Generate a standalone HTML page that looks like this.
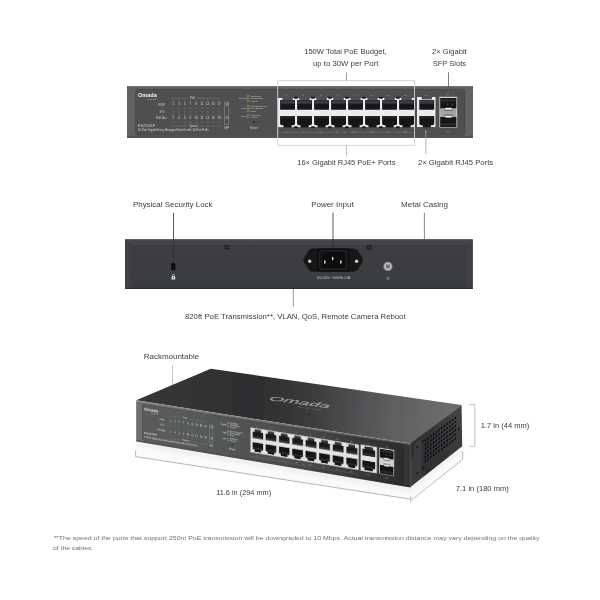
<!DOCTYPE html>
<html><head><meta charset="utf-8"><title>ES220GP</title>
<style>html,body{margin:0;padding:0;background:#fff;}body{position:relative;width:600px;height:600px;overflow:hidden;}svg{display:block;}text{font-family:'Liberation Sans', sans-serif;}#front3d text{font-weight:bold;}</style>
</head><body>
<svg width="600" height="600" viewBox="0 0 600 600">
<defs>
<linearGradient id="gTop" gradientUnits="userSpaceOnUse" x1="170" y1="400" x2="450" y2="420"><stop offset="0" stop-color="#363638"/><stop offset="0.3" stop-color="#2d2d2f"/><stop offset="0.5" stop-color="#3b3b3d"/><stop offset="0.65" stop-color="#4e4e50"/><stop offset="0.8" stop-color="#5f5f61"/><stop offset="1" stop-color="#6d6d6f"/></linearGradient>
<linearGradient id="gSide" gradientUnits="userSpaceOnUse" x1="410" y1="460" x2="462" y2="425"><stop offset="0" stop-color="#3c3d3f"/><stop offset="0.1" stop-color="#2d2e30"/><stop offset="0.5" stop-color="#333436"/><stop offset="1" stop-color="#414244"/></linearGradient>
<linearGradient id="gRear" x1="0" y1="0" x2="0" y2="1"><stop offset="0" stop-color="#3d3f42"/><stop offset="1" stop-color="#393b3e"/></linearGradient>
<radialGradient id="gShadow" cx="0.5" cy="0.5" r="0.5"><stop offset="0" stop-color="#000" stop-opacity="0.07"/><stop offset="1" stop-color="#000" stop-opacity="0"/></radialGradient>
<linearGradient id="gFrontShade" gradientUnits="userSpaceOnUse" x1="0" y1="0" x2="346" y2="0"><stop offset="0" stop-color="#000" stop-opacity="0"/><stop offset="0.25" stop-color="#000" stop-opacity="0.03"/><stop offset="0.6" stop-color="#000" stop-opacity="0.17"/><stop offset="0.85" stop-color="#000" stop-opacity="0.4"/><stop offset="1" stop-color="#000" stop-opacity="0.54"/></linearGradient>
<filter id="soft2" x="-5%" y="-20%" width="110%" height="140%"><feGaussianBlur stdDeviation="1.6"/></filter>
<filter id="soft" x="-5%" y="-5%" width="110%" height="110%"><feGaussianBlur stdDeviation="0.35"/></filter>
</defs>
<rect width="600" height="600" fill="#ffffff"/>
<g id="frontview" filter="url(#soft)">
<g transform="translate(127,86)">
<rect x="0" y="0" width="346.0" height="51.7" fill="#626364"/>
<rect x="0" y="0" width="346.0" height="1" fill="#6c6e6f"/>
<rect x="0" y="50.5" width="346.0" height="1.2" fill="#3a3c3e"/>
<rect x="8.5" y="3.3" width="329.5" height="46" rx="2.2" fill="#4f5051"/>
<rect x="8.5" y="3.3" width="329.5" height="46" rx="2.2" fill="none" stroke="#404243" stroke-width="0.5"/>
<text x="10.9" y="11.1" font-size="5.2" font-weight="bold" fill="#f2f2f2" textLength="18.9" lengthAdjust="spacingAndGlyphs">Omada</text>
<text x="20.0" y="13.7" font-size="2.2" fill="#b8babb" textLength="9.8" lengthAdjust="spacingAndGlyphs">by tp-link</text>
<text x="37.6" y="19.7" font-size="2.6" fill="#cdd0d1" text-anchor="end">PWR</text>
<text x="37.6" y="26.5" font-size="2.6" fill="#cdd0d1" text-anchor="end">SYS</text>
<text x="39.6" y="33.4" font-size="2.6" fill="#cdd0d1" text-anchor="end">PoE Max</text>
<text x="10.8" y="40.6" font-size="3.3" fill="#cdd0d1" textLength="17.5" lengthAdjust="spacingAndGlyphs">ES220GP</text>
<text x="10.8" y="45.4" font-size="2.9" fill="#cdd0d1" textLength="71.5" lengthAdjust="spacingAndGlyphs">20-Port Gigabit Easy Managed Switch with 16-Port PoE+</text>
<rect x="34.4" y="21.6" width="1.6" height="0.8" fill="#6f7375"/>
<rect x="34.4" y="28.6" width="1.6" height="0.8" fill="#6f7375"/>
<text x="65.5" y="13.0" font-size="2.7" fill="#cdd0d1" text-anchor="middle">PoE</text>
<path d="M44,12.2 H61.5 M69.5,12.2 H93" stroke="#8a8d8f" stroke-width="0.35" fill="none"/>
<text x="66.5" y="41.0" font-size="2.7" fill="#cdd0d1" text-anchor="middle">Speed</text>
<path d="M44,40.1 H61 M72,40.1 H95" stroke="#8a8d8f" stroke-width="0.35" fill="none"/>
<text x="46.3" y="19.4" font-size="3.0" fill="#d2d4d5" text-anchor="middle">1</text>
<text x="46.3" y="33.4" font-size="3.0" fill="#d2d4d5" text-anchor="middle">2</text>
<rect x="45.4" y="14.6" width="1.8" height="0.7" fill="#72767a"/>
<rect x="45.4" y="21.8" width="1.8" height="0.7" fill="#72767a"/>
<rect x="45.4" y="25.6" width="1.8" height="0.7" fill="#72767a"/>
<rect x="45.4" y="28.8" width="1.8" height="0.7" fill="#72767a"/>
<rect x="45.4" y="35.9" width="1.8" height="0.7" fill="#72767a"/>
<text x="52.01" y="19.4" font-size="3.0" fill="#d2d4d5" text-anchor="middle">3</text>
<text x="52.01" y="33.4" font-size="3.0" fill="#d2d4d5" text-anchor="middle">4</text>
<rect x="51.11" y="14.6" width="1.8" height="0.7" fill="#72767a"/>
<rect x="51.11" y="21.8" width="1.8" height="0.7" fill="#72767a"/>
<rect x="51.11" y="25.6" width="1.8" height="0.7" fill="#72767a"/>
<rect x="51.11" y="28.8" width="1.8" height="0.7" fill="#72767a"/>
<rect x="51.11" y="35.9" width="1.8" height="0.7" fill="#72767a"/>
<text x="57.72" y="19.4" font-size="3.0" fill="#d2d4d5" text-anchor="middle">5</text>
<text x="57.72" y="33.4" font-size="3.0" fill="#d2d4d5" text-anchor="middle">6</text>
<rect x="56.82" y="14.6" width="1.8" height="0.7" fill="#72767a"/>
<rect x="56.82" y="21.8" width="1.8" height="0.7" fill="#72767a"/>
<rect x="56.82" y="25.6" width="1.8" height="0.7" fill="#72767a"/>
<rect x="56.82" y="28.8" width="1.8" height="0.7" fill="#72767a"/>
<rect x="56.82" y="35.9" width="1.8" height="0.7" fill="#72767a"/>
<text x="63.42999999999999" y="19.4" font-size="3.0" fill="#d2d4d5" text-anchor="middle">7</text>
<text x="63.42999999999999" y="33.4" font-size="3.0" fill="#d2d4d5" text-anchor="middle">8</text>
<rect x="62.529999999999994" y="14.6" width="1.8" height="0.7" fill="#72767a"/>
<rect x="62.529999999999994" y="21.8" width="1.8" height="0.7" fill="#72767a"/>
<rect x="62.529999999999994" y="25.6" width="1.8" height="0.7" fill="#72767a"/>
<rect x="62.529999999999994" y="28.8" width="1.8" height="0.7" fill="#72767a"/>
<rect x="62.529999999999994" y="35.9" width="1.8" height="0.7" fill="#72767a"/>
<text x="69.14" y="19.4" font-size="3.0" fill="#d2d4d5" text-anchor="middle">9</text>
<text x="69.14" y="33.4" font-size="3.0" fill="#d2d4d5" text-anchor="middle">10</text>
<rect x="68.24" y="14.6" width="1.8" height="0.7" fill="#72767a"/>
<rect x="68.24" y="21.8" width="1.8" height="0.7" fill="#72767a"/>
<rect x="68.24" y="25.6" width="1.8" height="0.7" fill="#72767a"/>
<rect x="68.24" y="28.8" width="1.8" height="0.7" fill="#72767a"/>
<rect x="68.24" y="35.9" width="1.8" height="0.7" fill="#72767a"/>
<text x="74.85" y="19.4" font-size="3.0" fill="#d2d4d5" text-anchor="middle">11</text>
<text x="74.85" y="33.4" font-size="3.0" fill="#d2d4d5" text-anchor="middle">12</text>
<rect x="73.94999999999999" y="14.6" width="1.8" height="0.7" fill="#72767a"/>
<rect x="73.94999999999999" y="21.8" width="1.8" height="0.7" fill="#72767a"/>
<rect x="73.94999999999999" y="25.6" width="1.8" height="0.7" fill="#72767a"/>
<rect x="73.94999999999999" y="28.8" width="1.8" height="0.7" fill="#72767a"/>
<rect x="73.94999999999999" y="35.9" width="1.8" height="0.7" fill="#72767a"/>
<text x="80.56" y="19.4" font-size="3.0" fill="#d2d4d5" text-anchor="middle">13</text>
<text x="80.56" y="33.4" font-size="3.0" fill="#d2d4d5" text-anchor="middle">14</text>
<rect x="79.66" y="14.6" width="1.8" height="0.7" fill="#72767a"/>
<rect x="79.66" y="21.8" width="1.8" height="0.7" fill="#72767a"/>
<rect x="79.66" y="25.6" width="1.8" height="0.7" fill="#72767a"/>
<rect x="79.66" y="28.8" width="1.8" height="0.7" fill="#72767a"/>
<rect x="79.66" y="35.9" width="1.8" height="0.7" fill="#72767a"/>
<text x="86.27" y="19.4" font-size="3.0" fill="#d2d4d5" text-anchor="middle">15</text>
<text x="86.27" y="33.4" font-size="3.0" fill="#d2d4d5" text-anchor="middle">16</text>
<rect x="85.36999999999999" y="14.6" width="1.8" height="0.7" fill="#72767a"/>
<rect x="85.36999999999999" y="21.8" width="1.8" height="0.7" fill="#72767a"/>
<rect x="85.36999999999999" y="25.6" width="1.8" height="0.7" fill="#72767a"/>
<rect x="85.36999999999999" y="28.8" width="1.8" height="0.7" fill="#72767a"/>
<rect x="85.36999999999999" y="35.9" width="1.8" height="0.7" fill="#72767a"/>
<text x="91.97999999999999" y="19.4" font-size="3.0" fill="#d2d4d5" text-anchor="middle">17</text>
<text x="91.97999999999999" y="33.4" font-size="3.0" fill="#d2d4d5" text-anchor="middle">18</text>
<rect x="91.07999999999998" y="14.6" width="1.8" height="0.7" fill="#72767a"/>
<rect x="91.07999999999998" y="21.8" width="1.8" height="0.7" fill="#72767a"/>
<rect x="91.07999999999998" y="25.6" width="1.8" height="0.7" fill="#72767a"/>
<rect x="91.07999999999998" y="28.8" width="1.8" height="0.7" fill="#72767a"/>
<rect x="91.07999999999998" y="35.9" width="1.8" height="0.7" fill="#72767a"/>
<rect x="97.7" y="16" width="4.2" height="22.6" fill="none" stroke="#a9acae" stroke-width="0.4"/>
<text x="99.8" y="19.6" font-size="2.9" fill="#d2d4d5" text-anchor="middle">19</text>
<text x="99.8" y="33.4" font-size="2.9" fill="#d2d4d5" text-anchor="middle">20</text>
<text x="99.8" y="42.6" font-size="2.7" fill="#cdd0d1" text-anchor="middle">SFP</text>
<path d="M120.3,9.0 V16.0" stroke="#b5b8ba" stroke-width="0.4"/>
<text x="119.1" y="13.4" font-size="2.5" fill="#cdd0d1" text-anchor="end">Speed</text>
<rect x="121.3" y="9.5" width="1.3" height="0.9" fill="#d9c64a"/>
<text x="123.7" y="10.6" font-size="2.2" fill="#d2d4d5">1000Mbps</text>
<rect x="121.3" y="11.950000000000001" width="1.3" height="0.9" fill="#7fbf5a"/>
<text x="123.7" y="13.05" font-size="2.2" fill="#d2d4d5">10/100Mbps</text>
<rect x="121.3" y="14.4" width="1.3" height="0.9" fill="#7fbf5a"/>
<text x="123.7" y="15.5" font-size="2.2" fill="#d2d4d5">Activity</text>
<path d="M120.3,19.0 V26.0" stroke="#b5b8ba" stroke-width="0.4"/>
<text x="119.1" y="23.4" font-size="2.5" fill="#cdd0d1" text-anchor="end">PoE</text>
<rect x="121.3" y="19.5" width="1.3" height="0.9" fill="#d9c64a"/>
<text x="123.7" y="20.6" font-size="2.2" fill="#d2d4d5">Detecting Power</text>
<rect x="121.3" y="21.95" width="1.3" height="0.9" fill="#d9c64a"/>
<text x="123.7" y="23.05" font-size="2.2" fill="#d2d4d5">Over Budget</text>
<rect x="121.3" y="24.4" width="1.3" height="0.9" fill="#d9c64a"/>
<text x="123.7" y="25.5" font-size="2.2" fill="#d2d4d5">Fault</text>
<path d="M120.3,28.0 V32.6" stroke="#b5b8ba" stroke-width="0.4"/>
<text x="119.1" y="31.2" font-size="2.5" fill="#cdd0d1" text-anchor="end">SFP</text>
<rect x="121.3" y="28.5" width="1.3" height="0.9" fill="#7fbf5a"/>
<text x="123.7" y="29.6" font-size="2.2" fill="#d2d4d5">1000Mbps</text>
<rect x="121.3" y="30.950000000000003" width="1.3" height="0.9" fill="#7fbf5a"/>
<text x="123.7" y="32.050000000000004" font-size="2.2" fill="#d2d4d5">Activity</text>
<circle cx="127" cy="36.2" r="0.9" fill="#151617"/>
<text x="127" y="42.6" font-size="2.9" fill="#cdd0d1" text-anchor="middle">Reset</text>
<rect x="150.8" y="12.0" width="137.0" height="29.1" fill="#ececec"/>
<rect x="155.40000000000003" y="11.8" width="10.3" height="2.6" fill="#4d4f52"/>
<rect x="153.10000000000002" y="14.0" width="14.9" height="9.7" rx="0.5" fill="#19191b"/>
<rect x="153.60000000000002" y="14.3" width="13.9" height="3.4" fill="#3a3b3e"/>
<path d="M153.10000000000002,30.0 H168.00000000000003 V37.6 Q168.00000000000003,39.3 166.20000000000002,39.3 H164.60000000000002 V41.4 H156.50000000000003 V39.3 H154.90000000000003 Q153.10000000000002,39.3 153.10000000000002,37.6 Z" fill="#141416"/>
<rect x="153.70000000000002" y="30.2" width="13.700000000000001" height="1.6" fill="#2a2b2e"/>
<rect x="172.40000000000003" y="11.8" width="10.3" height="2.6" fill="#4d4f52"/>
<rect x="170.10000000000002" y="14.0" width="14.9" height="9.7" rx="0.5" fill="#19191b"/>
<rect x="170.60000000000002" y="14.3" width="13.9" height="3.4" fill="#3a3b3e"/>
<path d="M170.10000000000002,30.0 H185.00000000000003 V37.6 Q185.00000000000003,39.3 183.20000000000002,39.3 H181.60000000000002 V41.4 H173.50000000000003 V39.3 H171.90000000000003 Q170.10000000000002,39.3 170.10000000000002,37.6 Z" fill="#141416"/>
<rect x="170.70000000000002" y="30.2" width="13.700000000000001" height="1.6" fill="#2a2b2e"/>
<rect x="189.40000000000003" y="11.8" width="10.3" height="2.6" fill="#4d4f52"/>
<rect x="187.10000000000002" y="14.0" width="14.9" height="9.7" rx="0.5" fill="#19191b"/>
<rect x="187.60000000000002" y="14.3" width="13.9" height="3.4" fill="#3a3b3e"/>
<path d="M187.10000000000002,30.0 H202.00000000000003 V37.6 Q202.00000000000003,39.3 200.20000000000002,39.3 H198.60000000000002 V41.4 H190.50000000000003 V39.3 H188.90000000000003 Q187.10000000000002,39.3 187.10000000000002,37.6 Z" fill="#141416"/>
<rect x="187.70000000000002" y="30.2" width="13.700000000000001" height="1.6" fill="#2a2b2e"/>
<rect x="206.40000000000003" y="11.8" width="10.3" height="2.6" fill="#4d4f52"/>
<rect x="204.10000000000002" y="14.0" width="14.9" height="9.7" rx="0.5" fill="#19191b"/>
<rect x="204.60000000000002" y="14.3" width="13.9" height="3.4" fill="#3a3b3e"/>
<path d="M204.10000000000002,30.0 H219.00000000000003 V37.6 Q219.00000000000003,39.3 217.20000000000002,39.3 H215.60000000000002 V41.4 H207.50000000000003 V39.3 H205.90000000000003 Q204.10000000000002,39.3 204.10000000000002,37.6 Z" fill="#141416"/>
<rect x="204.70000000000002" y="30.2" width="13.700000000000001" height="1.6" fill="#2a2b2e"/>
<rect x="223.40000000000003" y="11.8" width="10.3" height="2.6" fill="#4d4f52"/>
<rect x="221.10000000000002" y="14.0" width="14.9" height="9.7" rx="0.5" fill="#19191b"/>
<rect x="221.60000000000002" y="14.3" width="13.9" height="3.4" fill="#3a3b3e"/>
<path d="M221.10000000000002,30.0 H236.00000000000003 V37.6 Q236.00000000000003,39.3 234.20000000000002,39.3 H232.60000000000002 V41.4 H224.50000000000003 V39.3 H222.90000000000003 Q221.10000000000002,39.3 221.10000000000002,37.6 Z" fill="#141416"/>
<rect x="221.70000000000002" y="30.2" width="13.700000000000001" height="1.6" fill="#2a2b2e"/>
<rect x="240.40000000000003" y="11.8" width="10.3" height="2.6" fill="#4d4f52"/>
<rect x="238.10000000000002" y="14.0" width="14.9" height="9.7" rx="0.5" fill="#19191b"/>
<rect x="238.60000000000002" y="14.3" width="13.9" height="3.4" fill="#3a3b3e"/>
<path d="M238.10000000000002,30.0 H253.00000000000003 V37.6 Q253.00000000000003,39.3 251.20000000000002,39.3 H249.60000000000002 V41.4 H241.50000000000003 V39.3 H239.90000000000003 Q238.10000000000002,39.3 238.10000000000002,37.6 Z" fill="#141416"/>
<rect x="238.70000000000002" y="30.2" width="13.700000000000001" height="1.6" fill="#2a2b2e"/>
<rect x="257.40000000000003" y="11.8" width="10.3" height="2.6" fill="#4d4f52"/>
<rect x="255.10000000000002" y="14.0" width="14.9" height="9.7" rx="0.5" fill="#19191b"/>
<rect x="255.60000000000002" y="14.3" width="13.9" height="3.4" fill="#3a3b3e"/>
<path d="M255.10000000000002,30.0 H270.0 V37.6 Q270.0,39.3 268.2,39.3 H266.6 V41.4 H258.5 V39.3 H256.90000000000003 Q255.10000000000002,39.3 255.10000000000002,37.6 Z" fill="#141416"/>
<rect x="255.70000000000002" y="30.2" width="13.700000000000001" height="1.6" fill="#2a2b2e"/>
<rect x="274.40000000000003" y="11.8" width="10.3" height="2.6" fill="#4d4f52"/>
<rect x="272.1" y="14.0" width="14.9" height="9.7" rx="0.5" fill="#19191b"/>
<rect x="272.6" y="14.3" width="13.9" height="3.4" fill="#3a3b3e"/>
<path d="M272.1,30.0 H287.0 V37.6 Q287.0,39.3 285.2,39.3 H283.6 V41.4 H275.5 V39.3 H273.90000000000003 Q272.1,39.3 272.1,37.6 Z" fill="#141416"/>
<rect x="272.70000000000005" y="30.2" width="13.700000000000001" height="1.6" fill="#2a2b2e"/>
<rect x="166.9" y="10.7" width="4.0" height="2.0" rx="0.9" fill="#1d1d1f"/>
<rect x="166.9" y="40.300000000000004" width="4.0" height="2.0" rx="0.9" fill="#1d1d1f"/>
<rect x="183.9" y="10.7" width="4.0" height="2.0" rx="0.9" fill="#1d1d1f"/>
<rect x="183.9" y="40.300000000000004" width="4.0" height="2.0" rx="0.9" fill="#1d1d1f"/>
<rect x="200.9" y="10.7" width="4.0" height="2.0" rx="0.9" fill="#1d1d1f"/>
<rect x="200.9" y="40.300000000000004" width="4.0" height="2.0" rx="0.9" fill="#1d1d1f"/>
<rect x="217.9" y="10.7" width="4.0" height="2.0" rx="0.9" fill="#1d1d1f"/>
<rect x="217.9" y="40.300000000000004" width="4.0" height="2.0" rx="0.9" fill="#1d1d1f"/>
<rect x="234.9" y="10.7" width="4.0" height="2.0" rx="0.9" fill="#1d1d1f"/>
<rect x="234.9" y="40.300000000000004" width="4.0" height="2.0" rx="0.9" fill="#1d1d1f"/>
<rect x="251.9" y="10.7" width="4.0" height="2.0" rx="0.9" fill="#1d1d1f"/>
<rect x="251.9" y="40.300000000000004" width="4.0" height="2.0" rx="0.9" fill="#1d1d1f"/>
<rect x="268.90000000000003" y="10.7" width="4.0" height="2.0" rx="0.9" fill="#1d1d1f"/>
<rect x="268.90000000000003" y="40.300000000000004" width="4.0" height="2.0" rx="0.9" fill="#1d1d1f"/>
<rect x="290.0" y="11.0" width="18.5" height="30.0" fill="#ececec"/>
<rect x="294.6" y="10.8" width="10.3" height="2.6" fill="#4d4f52"/>
<rect x="292.3" y="14.0" width="14.9" height="9.7" rx="0.5" fill="#19191b"/>
<rect x="292.8" y="14.3" width="13.9" height="3.4" fill="#3a3b3e"/>
<path d="M292.3,30.0 H307.2 V37.6 Q307.2,39.3 305.4,39.3 H303.8 V41.3 H295.7 V39.3 H294.1 Q292.3,39.3 292.3,37.6 Z" fill="#141416"/>
<rect x="292.90000000000003" y="30.2" width="13.700000000000001" height="1.6" fill="#2a2b2e"/>
<text x="159.3" y="9.8" font-size="2.4" fill="#9fa2a4" text-anchor="middle">1</text>
<text x="159.3" y="45.6" font-size="2.4" fill="#9fa2a4" text-anchor="middle">2</text>
<text x="176.3" y="9.8" font-size="2.4" fill="#9fa2a4" text-anchor="middle">3</text>
<text x="176.3" y="45.6" font-size="2.4" fill="#9fa2a4" text-anchor="middle">4</text>
<text x="193.3" y="9.8" font-size="2.4" fill="#9fa2a4" text-anchor="middle">5</text>
<text x="193.3" y="45.6" font-size="2.4" fill="#9fa2a4" text-anchor="middle">6</text>
<text x="210.3" y="9.8" font-size="2.4" fill="#9fa2a4" text-anchor="middle">7</text>
<text x="210.3" y="45.6" font-size="2.4" fill="#9fa2a4" text-anchor="middle">8</text>
<text x="227.3" y="9.8" font-size="2.4" fill="#9fa2a4" text-anchor="middle">9</text>
<text x="227.3" y="45.6" font-size="2.4" fill="#9fa2a4" text-anchor="middle">10</text>
<text x="244.3" y="9.8" font-size="2.4" fill="#9fa2a4" text-anchor="middle">11</text>
<text x="244.3" y="45.6" font-size="2.4" fill="#9fa2a4" text-anchor="middle">12</text>
<text x="261.3" y="9.8" font-size="2.4" fill="#9fa2a4" text-anchor="middle">13</text>
<text x="261.3" y="45.6" font-size="2.4" fill="#9fa2a4" text-anchor="middle">14</text>
<text x="278.3" y="9.8" font-size="2.4" fill="#9fa2a4" text-anchor="middle">15</text>
<text x="278.3" y="45.6" font-size="2.4" fill="#9fa2a4" text-anchor="middle">16</text>
<path d="M150.8,46.6 H212.8 M222.8,46.6 H286.8" stroke="#8a8d8f" stroke-width="0.35" fill="none"/>
<text x="217.8" y="47.3" font-size="2.0" fill="#9fa2a4" text-anchor="middle">PoE+</text>
<text x="299.0" y="9.8" font-size="2.4" fill="#9fa2a4" text-anchor="middle">17</text>
<text x="299.0" y="45.6" font-size="2.4" fill="#9fa2a4" text-anchor="middle">18</text>
<rect x="312.4" y="10.8" width="17.8" height="30.7" fill="#d4d5d5"/>
<rect x="313.2" y="12.0" width="16.2" height="10.6" fill="#121214"/>
<rect x="313.2" y="31.0" width="16.2" height="10.0" fill="#121214"/>
<rect x="313.2" y="22.6" width="16.2" height="8.4" fill="#a3a4a5"/>
<rect x="318.4" y="21.8" width="6.2" height="2.0" fill="#f4f4f4"/>
<rect x="318.4" y="29.6" width="6.2" height="2.0" fill="#f4f4f4"/>
<rect x="317.4" y="23.8" width="8.2" height="1.0" fill="#5a5b5d"/>
<rect x="317.4" y="28.6" width="8.2" height="1.0" fill="#5a5b5d"/>
<rect x="314.0" y="13.0" width="14.6" height="2.6" fill="#2b2c2f"/>
<rect x="314.0" y="37.2" width="14.6" height="2.6" fill="#2b2c2f"/>
<circle cx="320.59999999999997" cy="18.2" r="0.8" fill="#55585a"/><circle cx="325.59999999999997" cy="18.2" r="0.8" fill="#55585a"/>
<text x="321.4" y="9.4" font-size="2.4" fill="#9fa2a4" text-anchor="middle">19</text>
<text x="321.4" y="45.8" font-size="2.4" fill="#9fa2a4" text-anchor="middle">20</text>
</g>
<rect x="277.7" y="80.7" width="136.8" height="64.6" fill="none" stroke="#cfcfcf" stroke-width="0.9"/>
<path d="M346.5,72.5 V80.7" stroke="#808080" stroke-width="0.8" fill="none"/>
<path d="M346.5,145.3 V155.5" stroke="#b0b0b0" stroke-width="0.8" fill="none"/>
<path d="M448.5,72.3 V95" stroke="#5c5c5c" stroke-width="0.8" fill="none"/>
<path d="M425.8,130 V154" stroke="#a5a5a5" stroke-width="0.8" fill="none"/>
</g>
<g id="rearview" filter="url(#soft)">
<rect x="125" y="239.5" width="347.7" height="49.5" fill="url(#gRear)"/>
<path d="M125,239.5 H472.7 L466.2,245 H131.5 Z" fill="#444548"/>
<path d="M125,239.5 L131.5,245 V289 H125 Z" fill="#404144"/>
<path d="M472.7,239.5 L466.2,245 V289 H472.7 Z" fill="#404144"/>
<rect x="125" y="239.5" width="347.7" height="0.8" fill="#55575a"/>
<rect x="125" y="287.8" width="347.7" height="1.2" fill="#2c2d2f"/>
<rect x="224.4" y="244.9" width="5.0" height="4.6" rx="0.7" fill="#222325"/><rect x="226.0" y="246.4" width="1.8" height="1.5" fill="#3c3d40"/>
<rect x="366.8" y="244.9" width="5.0" height="4.6" rx="0.7" fill="#222325"/><rect x="368.40000000000003" y="246.4" width="1.8" height="1.5" fill="#3c3d40"/>
<rect x="171.2" y="263" width="4.2" height="7.4" rx="1.6" fill="#0c0c0d"/>
<rect x="171.6" y="276.2" width="3.6" height="3.2" rx="0.5" fill="#e6e6e6"/><path d="M172.4,276.4 V275.4 A1,1 0 0 1 174.4,275.4 V276.4" fill="none" stroke="#e6e6e6" stroke-width="0.6"/><rect x="172.9" y="277.2" width="1" height="1.2" fill="#3b3d40"/>
<path d="M313,248.5 H353.4 Q356,248.5 357.6,250.5 L362.2,257.7 Q363.6,260.1 362.2,262.5 L357.6,269.7 Q356,271.7 353.4,271.7 H313 Q310.4,271.7 308.8,269.7 L304.2,262.5 Q302.8,260.1 304.2,257.7 L308.8,250.5 Q310.4,248.5 313,248.5 Z" fill="#131314"/>
<rect x="317.6" y="248.4" width="31.4" height="22.8" rx="1.6" fill="#0b0b0c"/>
<rect x="319.6" y="250.4" width="27.4" height="19.2" rx="1.4" fill="#161617" stroke="#37383a" stroke-width="0.6"/>
<path d="M321.8,255.4 L324.8,252.6 H341.8 L344.8,255.4 V267.4 H321.8 Z" fill="#0c0c0d"/>
<circle cx="309.7" cy="261.2" r="1.7" fill="#c9c9c9"/><circle cx="356.6" cy="261.2" r="1.7" fill="#c9c9c9"/>
<rect x="332" y="257" width="1.3" height="3.2" fill="#f0f0f0"/><rect x="324.2" y="260.4" width="1.3" height="3.2" fill="#f0f0f0"/><rect x="340.2" y="260.4" width="1.3" height="3.2" fill="#f0f0f0"/>
<text x="316.4" y="279.3" font-size="2.9" fill="#c4c6c8" textLength="34" lengthAdjust="spacingAndGlyphs">100-240V~ 50/60Hz 2.0A</text>
<circle cx="387.9" cy="266.4" r="4.6" fill="#8e9091"/><circle cx="387.9" cy="266.4" r="3.6" fill="#bcbdbe"/><circle cx="387.9" cy="266.4" r="2.0" fill="#7d7f80"/><path d="M386,264.2 L389.8,268.6 M390,264.4 L385.8,268.4" stroke="#58595b" stroke-width="0.7"/>
<circle cx="387.9" cy="278.2" r="1.3" fill="none" stroke="#b4b6b8" stroke-width="0.4"/><path d="M387.9,277.3 V278.4 M387.2,278.4 H388.6 M387.5,278.9 H388.3" stroke="#b4b6b8" stroke-width="0.3"/>
<path d="M173.5,212.9 V263.2" stroke="#2e2e2e" stroke-width="0.8"/>
<path d="M333,212.7 V248" stroke="#2e2e2e" stroke-width="0.8"/>
<path d="M424.4,212.7 V239.8" stroke="#6a6a6a" stroke-width="0.8"/>
<path d="M293.3,289 V307" stroke="#7c7c7c" stroke-width="0.8"/>
</g>
<g id="view3d" filter="url(#soft)">
<polygon points="136.1,441.3 136.1,456.7 410.7,499.2 462.6,459.5 462.2,446.3 410.2,487.3" fill="#fafafa"/>
<polygon points="136.1,441.3 136.1,446 410.4,492.3 462.4,450.6 462.2,446.3 410.2,487.3" fill="#f0f0f0" filter="url(#soft2)"/>
<polygon points="136.1,400.3 210.8,368.7 461.6,404.9 410.5,443.4" fill="url(#gTop)"/>
<polygon points="410.4,443.3 461.6,404.9 462.2,446.3 410.2,487.3" fill="url(#gSide)"/>
<g transform="matrix(51.5,-38.6,0,43.6,410.4,443.5)">
<rect x="0.07" y="0.06" width="0.15" height="0.86" fill="#3a3b3d"/>
<rect x="0.2770" y="0.1590" width="0.032" height="0.052" rx="0.012" ry="0.018" fill="#0d0e0f"/>
<rect x="0.3296" y="0.1590" width="0.032" height="0.052" rx="0.012" ry="0.018" fill="#0d0e0f"/>
<rect x="0.3822" y="0.1590" width="0.032" height="0.052" rx="0.012" ry="0.018" fill="#0d0e0f"/>
<rect x="0.4348" y="0.1590" width="0.032" height="0.052" rx="0.012" ry="0.018" fill="#0d0e0f"/>
<rect x="0.4874" y="0.1590" width="0.032" height="0.052" rx="0.012" ry="0.018" fill="#0d0e0f"/>
<rect x="0.5400" y="0.1590" width="0.032" height="0.052" rx="0.012" ry="0.018" fill="#0d0e0f"/>
<rect x="0.5926" y="0.1590" width="0.032" height="0.052" rx="0.012" ry="0.018" fill="#0d0e0f"/>
<rect x="0.6452" y="0.1590" width="0.032" height="0.052" rx="0.012" ry="0.018" fill="#0d0e0f"/>
<rect x="0.6978" y="0.1590" width="0.032" height="0.052" rx="0.012" ry="0.018" fill="#0d0e0f"/>
<rect x="0.7504" y="0.1590" width="0.032" height="0.052" rx="0.012" ry="0.018" fill="#0d0e0f"/>
<rect x="0.8030" y="0.1590" width="0.032" height="0.052" rx="0.012" ry="0.018" fill="#0d0e0f"/>
<rect x="0.8556" y="0.1590" width="0.032" height="0.052" rx="0.012" ry="0.018" fill="#0d0e0f"/>
<rect x="0.2770" y="0.2550" width="0.032" height="0.052" rx="0.012" ry="0.018" fill="#0d0e0f"/>
<rect x="0.3296" y="0.2550" width="0.032" height="0.052" rx="0.012" ry="0.018" fill="#0d0e0f"/>
<rect x="0.3822" y="0.2550" width="0.032" height="0.052" rx="0.012" ry="0.018" fill="#0d0e0f"/>
<rect x="0.4348" y="0.2550" width="0.032" height="0.052" rx="0.012" ry="0.018" fill="#0d0e0f"/>
<rect x="0.4874" y="0.2550" width="0.032" height="0.052" rx="0.012" ry="0.018" fill="#0d0e0f"/>
<rect x="0.5400" y="0.2550" width="0.032" height="0.052" rx="0.012" ry="0.018" fill="#0d0e0f"/>
<rect x="0.5926" y="0.2550" width="0.032" height="0.052" rx="0.012" ry="0.018" fill="#0d0e0f"/>
<rect x="0.6452" y="0.2550" width="0.032" height="0.052" rx="0.012" ry="0.018" fill="#0d0e0f"/>
<rect x="0.6978" y="0.2550" width="0.032" height="0.052" rx="0.012" ry="0.018" fill="#0d0e0f"/>
<rect x="0.7504" y="0.2550" width="0.032" height="0.052" rx="0.012" ry="0.018" fill="#0d0e0f"/>
<rect x="0.8030" y="0.2550" width="0.032" height="0.052" rx="0.012" ry="0.018" fill="#0d0e0f"/>
<rect x="0.8556" y="0.2550" width="0.032" height="0.052" rx="0.012" ry="0.018" fill="#0d0e0f"/>
<rect x="0.2770" y="0.3510" width="0.032" height="0.052" rx="0.012" ry="0.018" fill="#0d0e0f"/>
<rect x="0.3296" y="0.3510" width="0.032" height="0.052" rx="0.012" ry="0.018" fill="#0d0e0f"/>
<rect x="0.3822" y="0.3510" width="0.032" height="0.052" rx="0.012" ry="0.018" fill="#0d0e0f"/>
<rect x="0.4348" y="0.3510" width="0.032" height="0.052" rx="0.012" ry="0.018" fill="#0d0e0f"/>
<rect x="0.4874" y="0.3510" width="0.032" height="0.052" rx="0.012" ry="0.018" fill="#0d0e0f"/>
<rect x="0.5400" y="0.3510" width="0.032" height="0.052" rx="0.012" ry="0.018" fill="#0d0e0f"/>
<rect x="0.5926" y="0.3510" width="0.032" height="0.052" rx="0.012" ry="0.018" fill="#0d0e0f"/>
<rect x="0.6452" y="0.3510" width="0.032" height="0.052" rx="0.012" ry="0.018" fill="#0d0e0f"/>
<rect x="0.6978" y="0.3510" width="0.032" height="0.052" rx="0.012" ry="0.018" fill="#0d0e0f"/>
<rect x="0.7504" y="0.3510" width="0.032" height="0.052" rx="0.012" ry="0.018" fill="#0d0e0f"/>
<rect x="0.8030" y="0.3510" width="0.032" height="0.052" rx="0.012" ry="0.018" fill="#0d0e0f"/>
<rect x="0.8556" y="0.3510" width="0.032" height="0.052" rx="0.012" ry="0.018" fill="#0d0e0f"/>
<rect x="0.2770" y="0.4470" width="0.032" height="0.052" rx="0.012" ry="0.018" fill="#0d0e0f"/>
<rect x="0.3296" y="0.4470" width="0.032" height="0.052" rx="0.012" ry="0.018" fill="#0d0e0f"/>
<rect x="0.3822" y="0.4470" width="0.032" height="0.052" rx="0.012" ry="0.018" fill="#0d0e0f"/>
<rect x="0.4348" y="0.4470" width="0.032" height="0.052" rx="0.012" ry="0.018" fill="#0d0e0f"/>
<rect x="0.4874" y="0.4470" width="0.032" height="0.052" rx="0.012" ry="0.018" fill="#0d0e0f"/>
<rect x="0.5400" y="0.4470" width="0.032" height="0.052" rx="0.012" ry="0.018" fill="#0d0e0f"/>
<rect x="0.5926" y="0.4470" width="0.032" height="0.052" rx="0.012" ry="0.018" fill="#0d0e0f"/>
<rect x="0.6452" y="0.4470" width="0.032" height="0.052" rx="0.012" ry="0.018" fill="#0d0e0f"/>
<rect x="0.6978" y="0.4470" width="0.032" height="0.052" rx="0.012" ry="0.018" fill="#0d0e0f"/>
<rect x="0.7504" y="0.4470" width="0.032" height="0.052" rx="0.012" ry="0.018" fill="#0d0e0f"/>
<rect x="0.8030" y="0.4470" width="0.032" height="0.052" rx="0.012" ry="0.018" fill="#0d0e0f"/>
<rect x="0.8556" y="0.4470" width="0.032" height="0.052" rx="0.012" ry="0.018" fill="#0d0e0f"/>
<rect x="0.2770" y="0.5430" width="0.032" height="0.052" rx="0.012" ry="0.018" fill="#0d0e0f"/>
<rect x="0.3296" y="0.5430" width="0.032" height="0.052" rx="0.012" ry="0.018" fill="#0d0e0f"/>
<rect x="0.3822" y="0.5430" width="0.032" height="0.052" rx="0.012" ry="0.018" fill="#0d0e0f"/>
<rect x="0.4348" y="0.5430" width="0.032" height="0.052" rx="0.012" ry="0.018" fill="#0d0e0f"/>
<rect x="0.4874" y="0.5430" width="0.032" height="0.052" rx="0.012" ry="0.018" fill="#0d0e0f"/>
<rect x="0.5400" y="0.5430" width="0.032" height="0.052" rx="0.012" ry="0.018" fill="#0d0e0f"/>
<rect x="0.5926" y="0.5430" width="0.032" height="0.052" rx="0.012" ry="0.018" fill="#0d0e0f"/>
<rect x="0.6452" y="0.5430" width="0.032" height="0.052" rx="0.012" ry="0.018" fill="#0d0e0f"/>
<rect x="0.6978" y="0.5430" width="0.032" height="0.052" rx="0.012" ry="0.018" fill="#0d0e0f"/>
<rect x="0.7504" y="0.5430" width="0.032" height="0.052" rx="0.012" ry="0.018" fill="#0d0e0f"/>
<rect x="0.8030" y="0.5430" width="0.032" height="0.052" rx="0.012" ry="0.018" fill="#0d0e0f"/>
<rect x="0.8556" y="0.5430" width="0.032" height="0.052" rx="0.012" ry="0.018" fill="#0d0e0f"/>
<rect x="0.2770" y="0.6390" width="0.032" height="0.052" rx="0.012" ry="0.018" fill="#0d0e0f"/>
<rect x="0.3296" y="0.6390" width="0.032" height="0.052" rx="0.012" ry="0.018" fill="#0d0e0f"/>
<rect x="0.3822" y="0.6390" width="0.032" height="0.052" rx="0.012" ry="0.018" fill="#0d0e0f"/>
<rect x="0.4348" y="0.6390" width="0.032" height="0.052" rx="0.012" ry="0.018" fill="#0d0e0f"/>
<rect x="0.4874" y="0.6390" width="0.032" height="0.052" rx="0.012" ry="0.018" fill="#0d0e0f"/>
<rect x="0.5400" y="0.6390" width="0.032" height="0.052" rx="0.012" ry="0.018" fill="#0d0e0f"/>
<rect x="0.5926" y="0.6390" width="0.032" height="0.052" rx="0.012" ry="0.018" fill="#0d0e0f"/>
<rect x="0.6452" y="0.6390" width="0.032" height="0.052" rx="0.012" ry="0.018" fill="#0d0e0f"/>
<rect x="0.6978" y="0.6390" width="0.032" height="0.052" rx="0.012" ry="0.018" fill="#0d0e0f"/>
<rect x="0.7504" y="0.6390" width="0.032" height="0.052" rx="0.012" ry="0.018" fill="#0d0e0f"/>
<rect x="0.8030" y="0.6390" width="0.032" height="0.052" rx="0.012" ry="0.018" fill="#0d0e0f"/>
<rect x="0.8556" y="0.6390" width="0.032" height="0.052" rx="0.012" ry="0.018" fill="#0d0e0f"/>
<ellipse cx="0.135" cy="0.2" rx="0.017" ry="0.028" fill="#0f0f10"/>
<ellipse cx="0.135" cy="0.8" rx="0.017" ry="0.028" fill="#0f0f10"/>
<ellipse cx="0.24" cy="0.17" rx="0.017" ry="0.028" fill="#0f0f10"/>
<ellipse cx="0.24" cy="0.78" rx="0.017" ry="0.028" fill="#0f0f10"/>
<ellipse cx="0.94" cy="0.5" rx="0.017" ry="0.028" fill="#0f0f10"/>
</g>
<path d="M410.4,443.4 L410.2,487.2" stroke="#4a4b4d" stroke-width="1"/>
<g transform="matrix(1,0.135,-0.6,0.47,267.6,399.9)"><text x="0" y="0" font-size="11.5" fill="#9a9b9c" stroke="#9a9b9c" stroke-width="0.3" textLength="60.5" lengthAdjust="spacingAndGlyphs">Omada</text></g>
<g transform="matrix(1,0.135,-0.6,0.47,297,407.3)"><text x="0" y="0" font-size="3.6" fill="#77787a" textLength="24" lengthAdjust="spacingAndGlyphs">by tp-link</text></g>
<path d="M172.5,365 V385" stroke="#b8b8b8" stroke-width="0.8"/>
<path d="M468.8,404.3 H474.8 V446.3 H468.8" stroke="#b4b4b4" stroke-width="0.8" fill="none"/>
<path d="M135.6,450.8 V456.6 L410.7,499.2 M410.7,496.2 V502.2" stroke="#a4a4a4" stroke-width="0.8" fill="none"/>
<path d="M411.7,500 L462.6,459.5 V451" stroke="#a8a8a8" stroke-width="0.8" fill="none"/>
</g>
<g id="labels" opacity="0.999">
<text x="304.2" y="54.2" font-size="7.8" fill="#3c3c3c" textLength="82.5" lengthAdjust="spacingAndGlyphs">150W Total PoE Budget,</text>
<text x="313.0" y="65.8" font-size="7.8" fill="#3c3c3c" textLength="65.3" lengthAdjust="spacingAndGlyphs">up to 30W per Port</text>
<text x="432.0" y="53.9" font-size="7.8" fill="#3c3c3c" textLength="34.7" lengthAdjust="spacingAndGlyphs">2× Gigabit</text>
<text x="432.7" y="65.6" font-size="7.8" fill="#3c3c3c" textLength="33.3" lengthAdjust="spacingAndGlyphs">SFP Slots</text>
<text x="297.3" y="165.0" font-size="7.8" fill="#3c3c3c" textLength="98.1" lengthAdjust="spacingAndGlyphs">16× Gigabit RJ45 PoE+ Ports</text>
<text x="418.0" y="165.0" font-size="7.8" fill="#3c3c3c" textLength="75.1" lengthAdjust="spacingAndGlyphs">2× Gigabit RJ45 Ports</text>
<text x="132.9" y="206.9" font-size="7.8" fill="#3c3c3c" textLength="79.7" lengthAdjust="spacingAndGlyphs">Physical Security Lock</text>
<text x="311.2" y="206.5" font-size="7.8" fill="#3c3c3c" textLength="42.5" lengthAdjust="spacingAndGlyphs">Power Input</text>
<text x="401.0" y="206.5" font-size="7.8" fill="#3c3c3c" textLength="47.0" lengthAdjust="spacingAndGlyphs">Metal Casing</text>
<text x="185.0" y="319.0" font-size="7.8" fill="#3c3c3c" textLength="220.6" lengthAdjust="spacingAndGlyphs">820ft PoE Transmission**, VLAN, QoS, Remote Camera Reboot</text>
<text x="143.7" y="358.8" font-size="7.8" fill="#3c3c3c" textLength="55.5" lengthAdjust="spacingAndGlyphs">Rackmountable</text>
<text x="480.8" y="428.0" font-size="7.8" fill="#3c3c3c" textLength="48.4" lengthAdjust="spacingAndGlyphs">1.7 in (44 mm)</text>
<text x="455.8" y="490.5" font-size="7.8" fill="#3c3c3c" textLength="53.0" lengthAdjust="spacingAndGlyphs">7.1 in (180 mm)</text>
<text x="216.2" y="495.0" font-size="7.8" fill="#3c3c3c" textLength="55.0" lengthAdjust="spacingAndGlyphs">11.6 in (294 mm)</text>
<text x="53.4" y="540.4" font-size="6.2" fill="#727272" textLength="486.0" lengthAdjust="spacingAndGlyphs">**The speed of the ports that support 250m PoE transmission will be downgraded to 10 Mbps. Actual transmission distance may vary depending on the quality</text>
<text x="53.0" y="550.4" font-size="6.2" fill="#727272" textLength="40.4" lengthAdjust="spacingAndGlyphs">of the cables.</text>
</g>
</svg>
<svg id="front3d" width="346" height="51.7" viewBox="0 0 346 51.7" style="position:absolute;left:0;top:0;transform-origin:0 0;transform:matrix3d(0.71342055,0.038540356,0,-0.0001940147,0.0026878273,0.80175195,0,1.9748914e-05,0,0,1,0,136.1,400.3,0,1);overflow:visible">
<rect x="0" y="0" width="346.0" height="51.7" fill="#6e7071"/>
<rect x="0" y="0" width="346.0" height="1" fill="#6c6e6f"/>
<rect x="0" y="50.5" width="346.0" height="1.2" fill="#3a3c3e"/>
<rect x="8.5" y="3.3" width="329.5" height="46" rx="2.2" fill="#595b5c"/>
<rect x="8.5" y="3.3" width="329.5" height="46" rx="2.2" fill="none" stroke="#404243" stroke-width="0.5"/>
<rect x="0" y="0" width="346.0" height="51.7" fill="url(#gFrontShade)"/>
<rect x="0" y="0" width="346.0" height="1.4" fill="#9a9c9d" opacity="0.55"/>
<text x="10.9" y="11.1" font-size="5.2" font-weight="bold" fill="#f2f2f2" textLength="18.9" lengthAdjust="spacingAndGlyphs">Omada</text>
<text x="20.0" y="13.7" font-size="2.2" fill="#b8babb" textLength="9.8" lengthAdjust="spacingAndGlyphs">by tp-link</text>
<text x="37.6" y="19.7" font-size="2.6" fill="#e2e4e5" text-anchor="end">PWR</text>
<text x="37.6" y="26.5" font-size="2.6" fill="#e2e4e5" text-anchor="end">SYS</text>
<text x="39.6" y="33.4" font-size="2.6" fill="#e2e4e5" text-anchor="end">PoE Max</text>
<text x="10.8" y="40.6" font-size="3.3" fill="#e2e4e5" textLength="17.5" lengthAdjust="spacingAndGlyphs">ES220GP</text>
<text x="10.8" y="45.4" font-size="2.9" fill="#e2e4e5" textLength="71.5" lengthAdjust="spacingAndGlyphs">20-Port Gigabit Easy Managed Switch with 16-Port PoE+</text>
<rect x="34.4" y="21.6" width="1.6" height="0.8" fill="#6f7375"/>
<rect x="34.4" y="28.6" width="1.6" height="0.8" fill="#6f7375"/>
<text x="65.5" y="13.0" font-size="2.7" fill="#e2e4e5" text-anchor="middle">PoE</text>
<path d="M44.0,12.2 H61.5 M69.5,12.2 H93.0" stroke="#8a8d8f" stroke-width="0.35" fill="none"/>
<text x="66.5" y="41.0" font-size="2.7" fill="#e2e4e5" text-anchor="middle">Speed</text>
<path d="M44.0,40.1 H61.0 M72.0,40.1 H95.0" stroke="#8a8d8f" stroke-width="0.35" fill="none"/>
<text x="46.3" y="19.4" font-size="3.0" fill="#e4e6e7" text-anchor="middle">1</text>
<text x="46.3" y="33.4" font-size="3.0" fill="#e4e6e7" text-anchor="middle">2</text>
<rect x="45.4" y="14.6" width="1.8" height="0.7" fill="#72767a"/>
<rect x="45.4" y="21.8" width="1.8" height="0.7" fill="#72767a"/>
<rect x="45.4" y="25.6" width="1.8" height="0.7" fill="#72767a"/>
<rect x="45.4" y="28.8" width="1.8" height="0.7" fill="#72767a"/>
<rect x="45.4" y="35.9" width="1.8" height="0.7" fill="#72767a"/>
<text x="52.01" y="19.4" font-size="3.0" fill="#e4e6e7" text-anchor="middle">3</text>
<text x="52.01" y="33.4" font-size="3.0" fill="#e4e6e7" text-anchor="middle">4</text>
<rect x="51.11" y="14.6" width="1.8" height="0.7" fill="#72767a"/>
<rect x="51.11" y="21.8" width="1.8" height="0.7" fill="#72767a"/>
<rect x="51.11" y="25.6" width="1.8" height="0.7" fill="#72767a"/>
<rect x="51.11" y="28.8" width="1.8" height="0.7" fill="#72767a"/>
<rect x="51.11" y="35.9" width="1.8" height="0.7" fill="#72767a"/>
<text x="57.72" y="19.4" font-size="3.0" fill="#e4e6e7" text-anchor="middle">5</text>
<text x="57.72" y="33.4" font-size="3.0" fill="#e4e6e7" text-anchor="middle">6</text>
<rect x="56.82" y="14.6" width="1.8" height="0.7" fill="#72767a"/>
<rect x="56.82" y="21.8" width="1.8" height="0.7" fill="#72767a"/>
<rect x="56.82" y="25.6" width="1.8" height="0.7" fill="#72767a"/>
<rect x="56.82" y="28.8" width="1.8" height="0.7" fill="#72767a"/>
<rect x="56.82" y="35.9" width="1.8" height="0.7" fill="#72767a"/>
<text x="63.42999999999999" y="19.4" font-size="3.0" fill="#e4e6e7" text-anchor="middle">7</text>
<text x="63.42999999999999" y="33.4" font-size="3.0" fill="#e4e6e7" text-anchor="middle">8</text>
<rect x="62.529999999999994" y="14.6" width="1.8" height="0.7" fill="#72767a"/>
<rect x="62.529999999999994" y="21.8" width="1.8" height="0.7" fill="#72767a"/>
<rect x="62.529999999999994" y="25.6" width="1.8" height="0.7" fill="#72767a"/>
<rect x="62.529999999999994" y="28.8" width="1.8" height="0.7" fill="#72767a"/>
<rect x="62.529999999999994" y="35.9" width="1.8" height="0.7" fill="#72767a"/>
<text x="69.14" y="19.4" font-size="3.0" fill="#e4e6e7" text-anchor="middle">9</text>
<text x="69.14" y="33.4" font-size="3.0" fill="#e4e6e7" text-anchor="middle">10</text>
<rect x="68.24" y="14.6" width="1.8" height="0.7" fill="#72767a"/>
<rect x="68.24" y="21.8" width="1.8" height="0.7" fill="#72767a"/>
<rect x="68.24" y="25.6" width="1.8" height="0.7" fill="#72767a"/>
<rect x="68.24" y="28.8" width="1.8" height="0.7" fill="#72767a"/>
<rect x="68.24" y="35.9" width="1.8" height="0.7" fill="#72767a"/>
<text x="74.85" y="19.4" font-size="3.0" fill="#e4e6e7" text-anchor="middle">11</text>
<text x="74.85" y="33.4" font-size="3.0" fill="#e4e6e7" text-anchor="middle">12</text>
<rect x="73.94999999999999" y="14.6" width="1.8" height="0.7" fill="#72767a"/>
<rect x="73.94999999999999" y="21.8" width="1.8" height="0.7" fill="#72767a"/>
<rect x="73.94999999999999" y="25.6" width="1.8" height="0.7" fill="#72767a"/>
<rect x="73.94999999999999" y="28.8" width="1.8" height="0.7" fill="#72767a"/>
<rect x="73.94999999999999" y="35.9" width="1.8" height="0.7" fill="#72767a"/>
<text x="80.56" y="19.4" font-size="3.0" fill="#e4e6e7" text-anchor="middle">13</text>
<text x="80.56" y="33.4" font-size="3.0" fill="#e4e6e7" text-anchor="middle">14</text>
<rect x="79.66" y="14.6" width="1.8" height="0.7" fill="#72767a"/>
<rect x="79.66" y="21.8" width="1.8" height="0.7" fill="#72767a"/>
<rect x="79.66" y="25.6" width="1.8" height="0.7" fill="#72767a"/>
<rect x="79.66" y="28.8" width="1.8" height="0.7" fill="#72767a"/>
<rect x="79.66" y="35.9" width="1.8" height="0.7" fill="#72767a"/>
<text x="86.27" y="19.4" font-size="3.0" fill="#e4e6e7" text-anchor="middle">15</text>
<text x="86.27" y="33.4" font-size="3.0" fill="#e4e6e7" text-anchor="middle">16</text>
<rect x="85.36999999999999" y="14.6" width="1.8" height="0.7" fill="#72767a"/>
<rect x="85.36999999999999" y="21.8" width="1.8" height="0.7" fill="#72767a"/>
<rect x="85.36999999999999" y="25.6" width="1.8" height="0.7" fill="#72767a"/>
<rect x="85.36999999999999" y="28.8" width="1.8" height="0.7" fill="#72767a"/>
<rect x="85.36999999999999" y="35.9" width="1.8" height="0.7" fill="#72767a"/>
<text x="91.97999999999999" y="19.4" font-size="3.0" fill="#e4e6e7" text-anchor="middle">17</text>
<text x="91.97999999999999" y="33.4" font-size="3.0" fill="#e4e6e7" text-anchor="middle">18</text>
<rect x="91.07999999999998" y="14.6" width="1.8" height="0.7" fill="#72767a"/>
<rect x="91.07999999999998" y="21.8" width="1.8" height="0.7" fill="#72767a"/>
<rect x="91.07999999999998" y="25.6" width="1.8" height="0.7" fill="#72767a"/>
<rect x="91.07999999999998" y="28.8" width="1.8" height="0.7" fill="#72767a"/>
<rect x="91.07999999999998" y="35.9" width="1.8" height="0.7" fill="#72767a"/>
<rect x="97.7" y="16" width="4.2" height="22.6" fill="none" stroke="#a9acae" stroke-width="0.4"/>
<text x="99.8" y="19.6" font-size="2.9" fill="#e4e6e7" text-anchor="middle">19</text>
<text x="99.8" y="33.4" font-size="2.9" fill="#e4e6e7" text-anchor="middle">20</text>
<text x="99.8" y="42.6" font-size="2.7" fill="#e2e4e5" text-anchor="middle">SFP</text>
<path d="M120.2953125,9.0 V16.0" stroke="#b5b8ba" stroke-width="0.4"/>
<text x="119.09531249999999" y="13.4" font-size="2.5" fill="#e2e4e5" text-anchor="end">Speed</text>
<rect x="121.2953125" y="9.5" width="1.3" height="0.9" fill="#d9c64a"/>
<text x="123.6953125" y="10.6" font-size="2.2" fill="#e4e6e7">1000Mbps</text>
<rect x="121.2953125" y="11.950000000000001" width="1.3" height="0.9" fill="#7fbf5a"/>
<text x="123.6953125" y="13.05" font-size="2.2" fill="#e4e6e7">10/100Mbps</text>
<rect x="121.2953125" y="14.4" width="1.3" height="0.9" fill="#7fbf5a"/>
<text x="123.6953125" y="15.5" font-size="2.2" fill="#e4e6e7">Activity</text>
<path d="M120.2953125,19.0 V26.0" stroke="#b5b8ba" stroke-width="0.4"/>
<text x="119.09531249999999" y="23.4" font-size="2.5" fill="#e2e4e5" text-anchor="end">PoE</text>
<rect x="121.2953125" y="19.5" width="1.3" height="0.9" fill="#d9c64a"/>
<text x="123.6953125" y="20.6" font-size="2.2" fill="#e4e6e7">Detecting Power</text>
<rect x="121.2953125" y="21.95" width="1.3" height="0.9" fill="#d9c64a"/>
<text x="123.6953125" y="23.05" font-size="2.2" fill="#e4e6e7">Over Budget</text>
<rect x="121.2953125" y="24.4" width="1.3" height="0.9" fill="#d9c64a"/>
<text x="123.6953125" y="25.5" font-size="2.2" fill="#e4e6e7">Fault</text>
<path d="M120.2953125,28.0 V32.6" stroke="#b5b8ba" stroke-width="0.4"/>
<text x="119.09531249999999" y="31.2" font-size="2.5" fill="#e2e4e5" text-anchor="end">SFP</text>
<rect x="121.2953125" y="28.5" width="1.3" height="0.9" fill="#7fbf5a"/>
<text x="123.6953125" y="29.6" font-size="2.2" fill="#e4e6e7">1000Mbps</text>
<rect x="121.2953125" y="30.950000000000003" width="1.3" height="0.9" fill="#7fbf5a"/>
<text x="123.6953125" y="32.050000000000004" font-size="2.2" fill="#e4e6e7">Activity</text>
<circle cx="126.890625" cy="36.2" r="0.9" fill="#151617"/>
<text x="126.890625" y="42.6" font-size="2.9" fill="#e2e4e5" text-anchor="middle">Reset</text>
<rect x="150.31875000000002" y="11.2" width="134.2" height="30.400000000000002" fill="#e2e3e3"/>
<path d="M152.91875000000002,15.8 H155.51875 V12.6 H163.56875000000002 V15.8 H166.16875000000002 V23.6 H152.91875000000002 Z" fill="#18191b"/>
<rect x="155.91875000000002" y="12.9" width="7.249999999999998" height="2.6" fill="#35373a"/>
<rect x="153.71875000000003" y="20.799999999999997" width="11.649999999999999" height="2.2" fill="#303235"/>
<path d="M152.91875000000002,28.8 H166.16875000000002 V36.6 Q166.16875000000002,37.4 164.76875,37.4 H163.56875000000002 V40.0 H155.51875 V37.4 H154.31875000000002 Q152.91875000000002,37.4 152.91875000000002,36.6 Z" fill="#141517"/>
<rect x="153.71875000000003" y="35.0" width="11.649999999999999" height="1.8" fill="#2c2e31"/>
<path d="M169.56875000000002,15.8 H172.16875000000002 V12.6 H180.21875000000003 V15.8 H182.81875000000002 V23.6 H169.56875000000002 Z" fill="#18191b"/>
<rect x="172.56875000000002" y="12.9" width="7.249999999999998" height="2.6" fill="#35373a"/>
<rect x="170.36875000000003" y="20.799999999999997" width="11.649999999999999" height="2.2" fill="#303235"/>
<path d="M169.56875000000002,28.8 H182.81875000000002 V36.6 Q182.81875000000002,37.4 181.41875000000002,37.4 H180.21875000000003 V40.0 H172.16875000000002 V37.4 H170.96875000000003 Q169.56875000000002,37.4 169.56875000000002,36.6 Z" fill="#141517"/>
<rect x="170.36875000000003" y="35.0" width="11.649999999999999" height="1.8" fill="#2c2e31"/>
<path d="M186.21875000000003,15.8 H188.81875000000002 V12.6 H196.86875000000003 V15.8 H199.46875000000003 V23.6 H186.21875000000003 Z" fill="#18191b"/>
<rect x="189.21875000000003" y="12.9" width="7.249999999999998" height="2.6" fill="#35373a"/>
<rect x="187.01875000000004" y="20.799999999999997" width="11.649999999999999" height="2.2" fill="#303235"/>
<path d="M186.21875000000003,28.8 H199.46875000000003 V36.6 Q199.46875000000003,37.4 198.06875000000002,37.4 H196.86875000000003 V40.0 H188.81875000000002 V37.4 H187.61875000000003 Q186.21875000000003,37.4 186.21875000000003,36.6 Z" fill="#141517"/>
<rect x="187.01875000000004" y="35.0" width="11.649999999999999" height="1.8" fill="#2c2e31"/>
<path d="M202.86875,15.8 H205.46875 V12.6 H213.51875 V15.8 H216.11875 V23.6 H202.86875 Z" fill="#18191b"/>
<rect x="205.86875" y="12.9" width="7.249999999999998" height="2.6" fill="#35373a"/>
<rect x="203.66875000000002" y="20.799999999999997" width="11.649999999999999" height="2.2" fill="#303235"/>
<path d="M202.86875,28.8 H216.11875 V36.6 Q216.11875,37.4 214.71875,37.4 H213.51875 V40.0 H205.46875 V37.4 H204.26875 Q202.86875,37.4 202.86875,36.6 Z" fill="#141517"/>
<rect x="203.66875000000002" y="35.0" width="11.649999999999999" height="1.8" fill="#2c2e31"/>
<path d="M219.51875,15.8 H222.11875 V12.6 H230.16875000000002 V15.8 H232.76875 V23.6 H219.51875 Z" fill="#18191b"/>
<rect x="222.51875" y="12.9" width="7.249999999999998" height="2.6" fill="#35373a"/>
<rect x="220.31875000000002" y="20.799999999999997" width="11.649999999999999" height="2.2" fill="#303235"/>
<path d="M219.51875,28.8 H232.76875 V36.6 Q232.76875,37.4 231.36875,37.4 H230.16875000000002 V40.0 H222.11875 V37.4 H220.91875000000002 Q219.51875,37.4 219.51875,36.6 Z" fill="#141517"/>
<rect x="220.31875000000002" y="35.0" width="11.649999999999999" height="1.8" fill="#2c2e31"/>
<path d="M236.16875000000002,15.8 H238.76875 V12.6 H246.81875000000002 V15.8 H249.41875000000002 V23.6 H236.16875000000002 Z" fill="#18191b"/>
<rect x="239.16875000000002" y="12.9" width="7.249999999999998" height="2.6" fill="#35373a"/>
<rect x="236.96875000000003" y="20.799999999999997" width="11.649999999999999" height="2.2" fill="#303235"/>
<path d="M236.16875000000002,28.8 H249.41875000000002 V36.6 Q249.41875000000002,37.4 248.01875,37.4 H246.81875000000002 V40.0 H238.76875 V37.4 H237.56875000000002 Q236.16875000000002,37.4 236.16875000000002,36.6 Z" fill="#141517"/>
<rect x="236.96875000000003" y="35.0" width="11.649999999999999" height="1.8" fill="#2c2e31"/>
<path d="M252.81875,15.8 H255.41875 V12.6 H263.46874999999994 V15.8 H266.06874999999997 V23.6 H252.81875 Z" fill="#18191b"/>
<rect x="255.81875" y="12.9" width="7.249999999999998" height="2.6" fill="#35373a"/>
<rect x="253.61875" y="20.799999999999997" width="11.649999999999999" height="2.2" fill="#303235"/>
<path d="M252.81875,28.8 H266.06874999999997 V36.6 Q266.06874999999997,37.4 264.66875,37.4 H263.46874999999994 V40.0 H255.41875 V37.4 H254.21875 Q252.81875,37.4 252.81875,36.6 Z" fill="#141517"/>
<rect x="253.61875" y="35.0" width="11.649999999999999" height="1.8" fill="#2c2e31"/>
<path d="M269.46875,15.8 H272.06875 V12.6 H280.11875 V15.8 H282.71875 V23.6 H269.46875 Z" fill="#18191b"/>
<rect x="272.46875" y="12.9" width="7.249999999999998" height="2.6" fill="#35373a"/>
<rect x="270.26875" y="20.799999999999997" width="11.649999999999999" height="2.2" fill="#303235"/>
<path d="M269.46875,28.8 H282.71875 V36.6 Q282.71875,37.4 281.31875,37.4 H280.11875 V40.0 H272.06875 V37.4 H270.86875 Q269.46875,37.4 269.46875,36.6 Z" fill="#141517"/>
<rect x="270.26875" y="35.0" width="11.649999999999999" height="1.8" fill="#2c2e31"/>
<rect x="286.7" y="10.6" width="19.65" height="31.199999999999996" fill="#e2e3e3"/>
<path d="M288.9,15.2 H291.5 V12.0 H301.59999999999997 V15.2 H304.2 V23.0 H288.9 Z" fill="#18191b"/>
<rect x="291.9" y="12.3" width="9.3" height="2.6" fill="#35373a"/>
<rect x="289.7" y="20.2" width="13.700000000000001" height="2.2" fill="#303235"/>
<path d="M288.9,28.999999999999996 H304.2 V36.8 Q304.2,37.599999999999994 302.8,37.599999999999994 H301.59999999999997 V40.199999999999996 H291.5 V37.599999999999994 H290.29999999999995 Q288.9,37.599999999999994 288.9,36.8 Z" fill="#141517"/>
<rect x="289.7" y="35.199999999999996" width="13.700000000000001" height="1.8" fill="#2c2e31"/>
<text x="158.64375" y="9.8" font-size="2.4" fill="#9fa2a4" text-anchor="middle">1</text>
<text x="158.64375" y="45.6" font-size="2.4" fill="#9fa2a4" text-anchor="middle">2</text>
<text x="175.29375000000002" y="9.8" font-size="2.4" fill="#9fa2a4" text-anchor="middle">3</text>
<text x="175.29375000000002" y="45.6" font-size="2.4" fill="#9fa2a4" text-anchor="middle">4</text>
<text x="191.94375000000002" y="9.8" font-size="2.4" fill="#9fa2a4" text-anchor="middle">5</text>
<text x="191.94375000000002" y="45.6" font-size="2.4" fill="#9fa2a4" text-anchor="middle">6</text>
<text x="208.59375" y="9.8" font-size="2.4" fill="#9fa2a4" text-anchor="middle">7</text>
<text x="208.59375" y="45.6" font-size="2.4" fill="#9fa2a4" text-anchor="middle">8</text>
<text x="225.24375" y="9.8" font-size="2.4" fill="#9fa2a4" text-anchor="middle">9</text>
<text x="225.24375" y="45.6" font-size="2.4" fill="#9fa2a4" text-anchor="middle">10</text>
<text x="241.89375" y="9.8" font-size="2.4" fill="#9fa2a4" text-anchor="middle">11</text>
<text x="241.89375" y="45.6" font-size="2.4" fill="#9fa2a4" text-anchor="middle">12</text>
<text x="258.54375" y="9.8" font-size="2.4" fill="#9fa2a4" text-anchor="middle">13</text>
<text x="258.54375" y="45.6" font-size="2.4" fill="#9fa2a4" text-anchor="middle">14</text>
<text x="275.19374999999997" y="9.8" font-size="2.4" fill="#9fa2a4" text-anchor="middle">15</text>
<text x="275.19374999999997" y="45.6" font-size="2.4" fill="#9fa2a4" text-anchor="middle">16</text>
<path d="M150.31875000000002,46.6 H212.31875000000002 M222.31875000000002,46.6 H283.51875" stroke="#8a8d8f" stroke-width="0.35" fill="none"/>
<text x="217.31875000000002" y="47.3" font-size="2.0" fill="#9fa2a4" text-anchor="middle">PoE+</text>
<text x="295.7" y="9.8" font-size="2.4" fill="#9fa2a4" text-anchor="middle">17</text>
<text x="295.7" y="45.6" font-size="2.4" fill="#9fa2a4" text-anchor="middle">18</text>
<rect x="309.09999999999997" y="10.8" width="17.8" height="30.7" fill="#d4d5d5"/>
<rect x="309.9" y="12.0" width="16.2" height="10.6" fill="#121214"/>
<rect x="309.9" y="31.0" width="16.2" height="10.0" fill="#121214"/>
<rect x="309.9" y="22.6" width="16.2" height="8.4" fill="#d0d1d1"/>
<rect x="315.09999999999997" y="21.8" width="6.2" height="2.0" fill="#f4f4f4"/>
<rect x="315.09999999999997" y="29.6" width="6.2" height="2.0" fill="#f4f4f4"/>
<rect x="314.09999999999997" y="23.8" width="8.2" height="1.0" fill="#5a5b5d"/>
<rect x="314.09999999999997" y="28.6" width="8.2" height="1.0" fill="#5a5b5d"/>
<rect x="310.7" y="13.0" width="14.6" height="2.6" fill="#2b2c2f"/>
<rect x="310.7" y="37.2" width="14.6" height="2.6" fill="#2b2c2f"/>
<circle cx="317.29999999999995" cy="18.2" r="0.8" fill="#55585a"/><circle cx="322.29999999999995" cy="18.2" r="0.8" fill="#55585a"/>
<text x="318.09999999999997" y="9.4" font-size="2.4" fill="#9fa2a4" text-anchor="middle">19</text>
<text x="318.09999999999997" y="45.8" font-size="2.4" fill="#9fa2a4" text-anchor="middle">20</text>
</svg>
</body></html>
